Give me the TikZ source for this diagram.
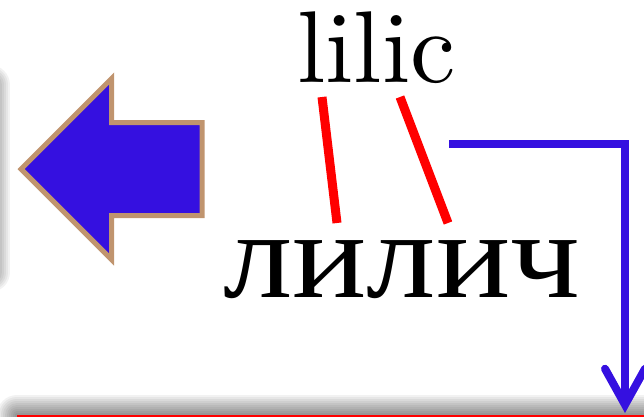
\documentclass[tikz,border=0pt]{standalone}
\usepackage{fontspec}
\newfontfamily\lmten[Extension=.otf]{lmroman10-regular}
\newfontfamily\cyrfont[FakeStretch=1.12]{Liberation Serif}
\usetikzlibrary{positioning,shapes.arrows,arrows.meta,backgrounds}
\definecolor{arrowblue}{RGB}{53,16,224}
\definecolor{arrowtan}{RGB}{192,148,110}

\begin{document}
\begin{tikzpicture}[x=1pt, y=-1pt,
        glowring/.style={black, opacity=0.05, line join=round},
        link/.style={red, line width=9pt}]
        \useasboundingbox (0,0) rectangle (644,416);
        \node[draw, fill=white, minimum width=220pt, minimum height=187pt, anchor=north east] (lbox) at (-10,85) {};
        \node[draw=red, line width=2pt, fill=white, minimum width=700pt, minimum height=100pt, anchor=north west] (bbox) at (17,415) {};
        % soft halo round the boxes
        \begin{scope}[on background layer]
            \foreach \r in {2,4,...,20} {
                \draw[glowring, line width={2*\r}] (lbox.north west) rectangle (lbox.south east);
                \draw[glowring, line width={2*\r}] (bbox.north west) rectangle (bbox.south east);
            }
        \end{scope}

        \node[single arrow, shape border rotate=180, draw=arrowtan, fill=arrowblue, line width=5pt, inner xsep=0pt, inner ysep=44pt,
              minimum width=176pt, minimum height=181pt, single arrow head extend=44pt, anchor=tip] (arr) at (17.5,169) {};

        \node[inner sep=0pt, anchor=base west, font=\lmten\fontsize{102}{102}\selectfont] (lat) at (297,82) {lilic};
        \node[inner sep=0pt, anchor=base west, font=\cyrfont\fontsize{124}{124}\selectfont] (cyr) at (223,297) {лилич};

        % letter links
        \coordinate (l1) at (322,97);
        \coordinate (c1) at (337,223);
        \coordinate (l2) at (400,97);
        \coordinate (c2) at (448,223);
        \draw[link] (l1) -- (c1);
        \draw[link] (l2) -- (c2);

        \coordinate (bs) at (449,144);
        \coordinate (be) at (625,413);
        \draw[arrowblue, line width=8pt, -{Straight Barb[line cap=round, line join=miter, length=36pt, width=40pt]}] (bs) -| (be);
    \end{tikzpicture}
\end{document}
